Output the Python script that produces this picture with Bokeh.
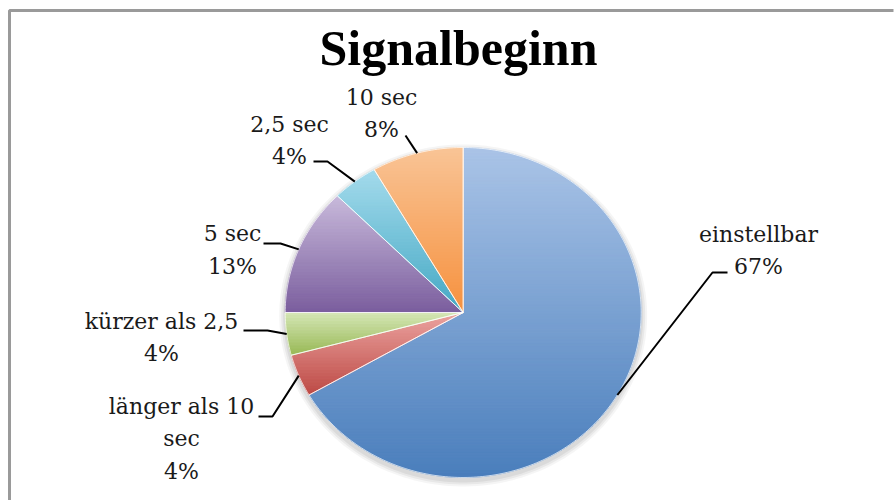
import textwrap
import numpy as np
from bokeh.plotting import figure
from bokeh.models import Range1d
from bokeh.core.properties import value
from bokeh.embed import file_html
from bokeh.resources import INLINE

# ---------------- data ----------------
title = "Signalbeginn"
categories = ["einstellbar", "länger als 10 sec", "kürzer als 2,5", "5 sec", "2,5 sec", "10 sec"]
counts = [16, 1, 1, 3, 1, 2]
top_colors = ["#aac4e7", "#eca4a1", "#d6e7b8", "#c8badb", "#a4dbec", "#f9c496"]
bottom_colors = ["#4a7ebc", "#bd4a45", "#98b955", "#7b5e9e", "#44a8c4", "#f6913e"]

# ---------------- layout (pixels) ----------------
W, H = 894, 500
CX, CY, RX, RY = 462.7, 312.0, 178.0, 165.0
label_x = [758, 181, 161, 232, 289, 381]
label_y = [250, 438, 337, 249.5, 140, 113]
tail_x = [727, 258, 243, 263, 313, 405]
elbow_x = [712, 272, 267, 280, 327, 405]
elbow_y = [272, 416, 330, 243, 161, 135]

total = float(sum(counts))
fracs = [c / total for c in counts]
pcts = [int(100 * f + 0.5) for f in fracs]
labels = ["\n".join(textwrap.wrap(c, 14)) + "\n" + f"{p}%" for c, p in zip(categories, pcts)]

def pt(theta):
    return CX + RX * np.sin(theta), CY - RY * np.cos(theta)

def clip(poly, y0, keep_above):
    out = []
    n = len(poly)
    for i in range(n):
        cx_, cy_ = poly[i]
        px_, py_ = poly[i - 1]
        cin = cy_ >= y0 if keep_above else cy_ <= y0
        pin = py_ >= y0 if keep_above else py_ <= y0
        if cin:
            if not pin:
                t = (y0 - py_) / (cy_ - py_)
                out.append((px_ + t * (cx_ - px_), y0))
            out.append((cx_, cy_))
        elif pin:
            t = (y0 - py_) / (cy_ - py_)
            out.append((px_ + t * (cx_ - px_), y0))
    return out

def hex2rgb(h):
    h = h.lstrip("#")
    return np.array([int(h[i:i + 2], 16) for i in (0, 2, 4)], dtype=float)

def rgb2hex(c):
    return "#%02x%02x%02x" % tuple(int(round(v)) for v in c)

p = figure(width=W, height=H, x_range=Range1d(0, W), y_range=Range1d(H, 0),
           output_backend="svg", toolbar_location=None, min_border=0,
           border_fill_color="white")
p.axis.visible = False
p.grid.visible = False
p.outline_line_color = None
p.background_fill_color = "white"

# chart border (left and top edges visible)
p.line([9, 9, W - 1], [H + 10, 10, 10], line_color="#9a9a9a", line_width=3)

# soft shadow
for k, a in [(6, 0.04), (4, 0.05), (2, 0.06)]:
    th = np.linspace(0, 2 * np.pi, 200)
    p.patch(CX + (RX + k) * np.sin(th), CY + 3 - (RY + k) * np.cos(th),
            fill_color="#000000", fill_alpha=a, line_color=None)

band_xs, band_ys, band_cols = [], [], []
outline_xs, outline_ys = [], []
start = 0.0
mids = []
for f, ct, cb in zip(fracs, top_colors, bottom_colors):
    a0 = start * 2 * np.pi
    a1 = (start + f) * 2 * np.pi
    mids.append((a0 + a1) / 2)
    th = np.linspace(a0, a1, max(4, int(f * 360)))
    xs, ys = pt(th)
    poly = [(CX, CY)] + list(zip(xs, ys))
    outline_xs.append([q[0] for q in poly])
    outline_ys.append([q[1] for q in poly])
    ymin = min(q[1] for q in poly)
    ymax = max(q[1] for q in poly)
    nb = max(8, int((ymax - ymin) / 3))
    edges = np.linspace(ymin, ymax, nb + 1)
    c0, c1 = hex2rgb(ct), hex2rgb(cb)
    for i in range(nb):
        part = clip(clip(poly, edges[i], True), edges[i + 1], False)
        if len(part) < 3:
            continue
        t = (i + 0.5) / nb
        band_xs.append([q[0] for q in part])
        band_ys.append([q[1] for q in part])
        band_cols.append(rgb2hex(c0 + (c1 - c0) * t))
    start += f

p.patches(band_xs, band_ys, fill_color=band_cols, line_color=band_cols, line_width=1)
p.patches(outline_xs, outline_ys, fill_color=None, line_color="white", line_width=1, line_alpha=0.7)

# leader lines
lx, ly = [], []
for m, tx, ex, ey in zip(mids, tail_x, elbow_x, elbow_y):
    ex_, ey_ = pt(m)
    lx.append([tx, ex, ex_])
    ly.append([ey, ey, ey_])
p.multi_line(lx, ly, line_color="black", line_width=2)

p.text(label_x, label_y, text=labels, text_align="center", text_baseline="middle",
       text_font=value("DejaVu Serif"), text_font_size="22px", text_color="#1a1a1a",
       text_line_height=1.3)

p.text([458], [47], text=[title], text_align="center", text_baseline="alphabetic",
       text_font=value("Liberation Serif"), text_font_style="bold",
       text_font_size="50px", text_color="black")

open("out.html", "w").write(file_html(p, INLINE))
